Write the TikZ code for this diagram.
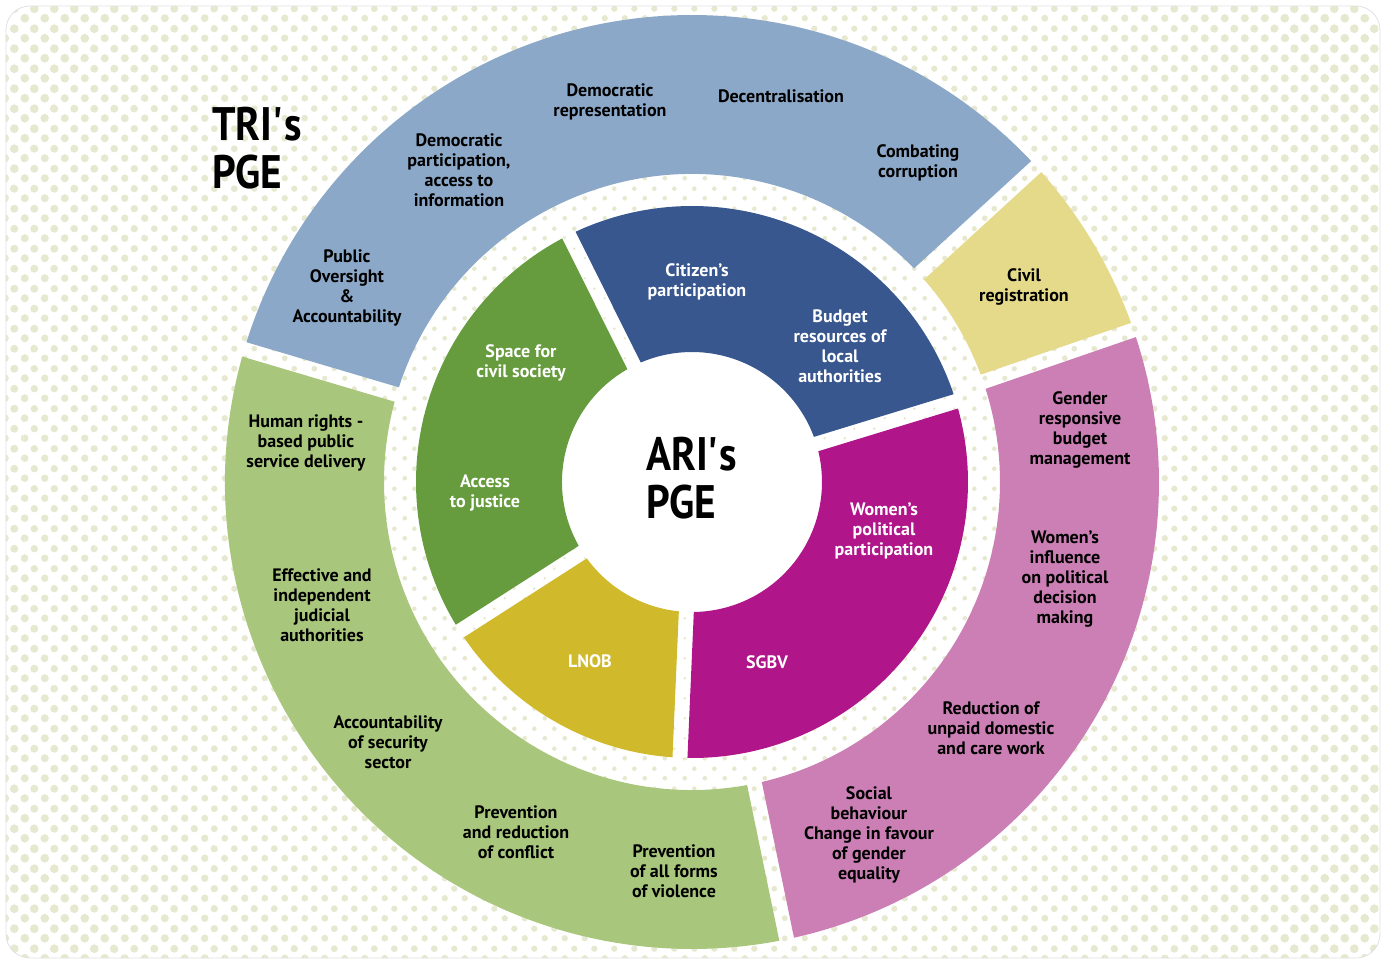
\documentclass[tikz,border=0pt]{standalone}
\usepackage{fontspec}
\setmainfont{PT Sans}
\newfontfamily\titleFont[FakeStretch=0.88]{PT Sans}
\usepackage{tikz}
\usetikzlibrary{positioning}
\usetikzlibrary{patterns.meta}

\definecolor{dotColor}{RGB}{230,232,208}
\definecolor{triBlue}{RGB}{140,168,200}
\definecolor{civilYellow}{RGB}{228,218,138}
\definecolor{genderPink}{RGB}{203,127,181}
\definecolor{triGreen}{RGB}{168,198,124}
\definecolor{ariGreen}{RGB}{102,156,62}
\definecolor{ariBlue}{RGB}{57,87,143}
\definecolor{ariMagenta}{RGB}{176,21,138}
\definecolor{ariYellow}{RGB}{208,185,42}

\tikzdeclarepattern{
	name=bgDots,
	parameters={\pgfkeysvalueof{/pgf/pattern keys/dot radius}},
	bounding box={(0pt,0pt) and (20pt,20pt)},
	tile size={(20pt,20pt)},
	defaults={dot radius/.initial=2pt},
	code={
		\fill (5pt,5pt) circle[radius=\pgfkeysvalueof{/pgf/pattern keys/dot radius}];
		\fill (15pt,15pt) circle[radius=\pgfkeysvalueof{/pgf/pattern keys/dot radius}];
	}
}

\tikzset{
	outerLabel/.style={align=center, inner sep=0pt, text=black,
		font=\bfseries\fontsize{18}{20}\selectfont},
	innerLabel/.style={outerLabel, text=white},
	titleLabel/.style={align=left, inner sep=0pt, anchor=west,
		font=\titleFont\bfseries\fontsize{47}{48}\selectfont}
}

% ring segment: colour, inner radius, outer radius, start angle, end angle
\newcommand{\halfGap}{7.5}
\newcommand{\ringSeg}[5]{%
	\pgfmathsetmacro{\ai}{#4+asin(\halfGap/#2)}%
	\pgfmathsetmacro{\bi}{#5-asin(\halfGap/#2)}%
	\pgfmathsetmacro{\ao}{#4+asin(\halfGap/#3)}%
	\pgfmathsetmacro{\bo}{#5-asin(\halfGap/#3)}%
	\fill[#1] (\ai:#2) -- (\ao:#3) arc[start angle=\ao, end angle=\bo, radius=#3]
		-- (\bi:#2) arc[start angle=\bi, end angle=\ai, radius=#2] -- cycle;%
}

\begin{document}
\begin{tikzpicture}[x=1pt, y=1pt]
\useasboundingbox (-692,-480) rectangle (694,482);

% dotted background, dots grow towards the corners
\begin{scope}
\clip[rounded corners=24] (-686,-476) rectangle (688,476);
\foreach \ra/\rb/\dr in {131/276/1.5, 276/310/2.4, 310/390/2.7, 390/467/3.0,
	467/530/3.3, 530/600/3.6, 600/670/3.9, 670/740/4.2, 740/1000/4.6}{
	\fill[pattern={bgDots[dot radius=\dr pt]}, pattern color=dotColor, even odd rule]
		(0,0) circle[radius=\ra] (0,0) circle[radius=\rb];
}
\end{scope}
\draw[black!12, line width=0.8] [rounded corners=24] (-686,-476) rectangle (688,476);

% ---

\ringSeg{triBlue}{308}{467}{42.5}{163.5}
\ringSeg{civilYellow}{308}{467}{19}{42.5}
\ringSeg{genderPink}{308}{467}{-78.3}{19}
\ringSeg{triGreen}{308}{467}{163.5}{281.7}

\ringSeg{ariGreen}{130}{276}{116.5}{212.7}
\ringSeg{ariYellow}{130}{276}{212.7}{267.5}
\ringSeg{ariMagenta}{130}{276}{-92.5}{17}
\ringSeg{ariBlue}{130}{276}{17}{116.5}

% ---

\node[titleLabel] (triTitle) at (-480,334) {TRI\textquotesingle s\\PGE};
\node[titleLabel] (ariTitle) at (-46,4) {ARI\textquotesingle s\\PGE};

% ---

\node[outerLabel] (oversight) at (-345,194) {Public\\Oversight\\\&\\Accountability};
\node[outerLabel] (participation) at (-233,312) {Democratic\\participation,\\access to\\information};
\node[outerLabel] (representation) at (-82,380) {Democratic\\representation};
\node[outerLabel] (decentral) at (89,386) {Decentralisation};
\node[outerLabel] (corruption) at (226,319) {Combating\\corruption};
\node[outerLabel] (civilReg) at (332,195) {Civil\\registration};

\node[outerLabel] (genderBudget) at (388,52) {Gender\\responsive\\budget\\management};
\node[outerLabel] (womenInfluence) at (373,-97) {Women’s\\influence\\on political\\decision\\making};
\node[outerLabel] (unpaidWork) at (299,-246) {Reduction of\\unpaid domestic\\and care work};
\node[outerLabel] (behaviour) at (177,-353) {Social\\behaviour\\Change in favour\\of gender\\equality};

\node[outerLabel] (humanRights) at (-386,39) {Human rights -\\based public\\service delivery};
\node[outerLabel] (judicial) at (-370,-123) {Effective and\\independent\\judicial\\authorities};
\node[outerLabel] (security) at (-304,-260) {Accountability\\of security\\sector};
\node[outerLabel] (conflict) at (-176,-350) {Prevention\\and reduction\\of conflict};
\node[outerLabel] (violence) at (-18,-389) {Prevention\\of all forms\\of violence};

% ---

\node[innerLabel] (civilSpace) at (-171,119) {Space for\\civil society};
\node[innerLabel] (justice) at (-207,-11) {Access\\to justice};
\node[innerLabel] (citizens) at (5,200) {Citizen’s\\participation};
\node[innerLabel] (localBudget) at (148,136) {Budget\\resources of\\local\\authorities};
\node[innerLabel] (womenPolitical) at (192,-49) {Women’s\\political\\participation};
\node[innerLabel] (sgbv) at (75,-180) {SGBV};
\node[innerLabel] (lnob) at (-102,-179) {LNOB};

\end{tikzpicture}
\end{document}
